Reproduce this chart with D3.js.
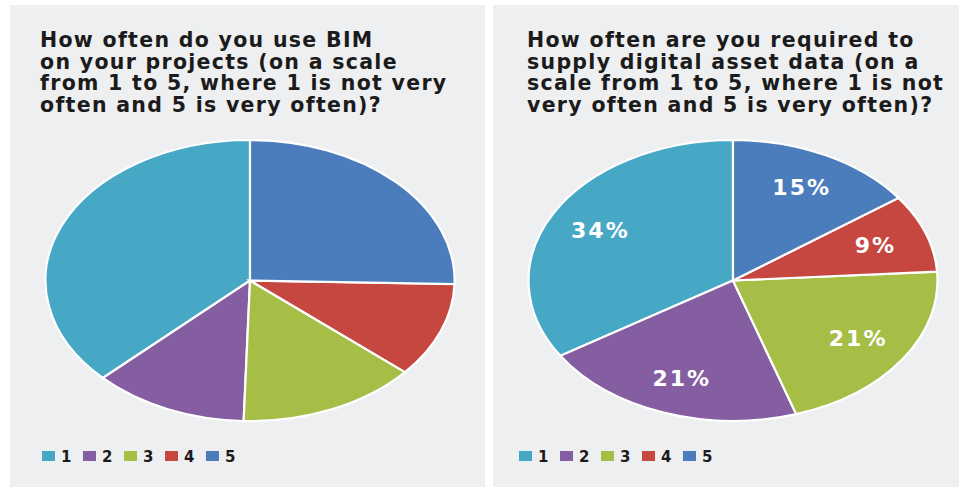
<!DOCTYPE html>
<html>
<head>
<meta charset="utf-8">
<script src="https://cdn.jsdelivr.net/npm/d3@7"></script>
<style>
  html, body { margin: 0; padding: 0; background: #ffffff; }
  svg { display: block; }
</style>
</head>
<body>
<svg id="chart" width="959" height="487"></svg>
<script>
// ---- data ----
const categories = ["1", "2", "3", "4", "5"];
const bimValues = [37.2, 12.3, 14.2, 10.9, 25.4];   // left chart (no labels shown)
const assetValues = [34, 21, 21, 9, 15];            // right chart (%)
const leftTitle = ["How often do you use BIM", "on your projects (on a scale", "from 1 to 5, where 1 is not very", "often and 5 is very often)?"];
const rightTitle = ["How often are you required to", "supply digital asset data (on a", "scale from 1 to 5, where 1 is not", "very often and 5 is very often)?"];
const colors = ["#47a8c6", "#845ea0", "#a6bd46", "#c5473f", "#4b7cbc"];

const svg = d3.select("#chart");
const color = d3.scaleOrdinal().domain(categories).range(colors);

const panels = [
  { x0: 10, x1: 485, values: bimValues, title: leftTitle, labels: false, cx: 250, titleX: 40, legendX: 42 },
  { x0: 493, x1: 959, values: assetValues, title: rightTitle, labels: true, cx: 733, titleX: 527, legendX: 519 }
];

const rx = 204.5, ry = 140.5, cy = 280.5;

panels.forEach(p => {
  const g = svg.append("g");
  g.append("rect").attr("x", p.x0).attr("y", 5).attr("width", p.x1 - p.x0).attr("height", 482).attr("fill", "#eeeff1");

  // title
  const t = g.append("text")
    .attr("x", p.titleX).attr("y", 47)
    .attr("font-family", "DejaVu Sans, sans-serif")
    .attr("font-weight", "bold")
    .attr("font-size", 20.5)
    .attr("letter-spacing", 1.3)
    .attr("fill", "#1b1b1b");
  p.title.forEach((line, i) => {
    t.append("tspan").attr("x", p.titleX).attr("dy", i === 0 ? 0 : 21.7).text(line);
  });

  // pie (ellipse = scaled unit circle)
  const data = categories.map((c, i) => ({ cat: c, idx: i, value: p.values[i] }));
  const pie = d3.pie().value(d => d.value).sort((a, b) => b.idx - a.idx);
  const arcs = pie(data);
  const arc = d3.arc().innerRadius(0).outerRadius(1);
  const pg = g.append("g").attr("transform", `translate(${p.cx},${cy}) scale(${rx},${ry})`);
  pg.selectAll("path").data(arcs).join("path")
    .attr("d", arc)
    .attr("fill", d => color(d.data.cat))
    .attr("stroke", "#ffffff")
    .attr("stroke-width", 2.2)
    .attr("vector-effect", "non-scaling-stroke");

  if (p.labels) {
    const labelArc = d3.arc().innerRadius(0.74).outerRadius(0.74);
    g.selectAll("text.lbl").data(arcs).join("text")
      .attr("class", "lbl")
      .attr("x", d => p.cx + labelArc.centroid(d)[0] * rx)
      .attr("y", d => cy + labelArc.centroid(d)[1] * ry)
      .attr("text-anchor", "middle")
      .attr("dominant-baseline", "central")
      .attr("font-family", "DejaVu Sans, sans-serif")
      .attr("font-weight", "bold")
      .attr("font-size", 22)
      .attr("letter-spacing", 2)
      .attr("fill", "#ffffff")
      .text(d => d.data.value + "%");
  }

  // legend
  const lx = d3.scaleBand().domain(categories).range([p.legendX, p.legendX + 41 * 5]);
  const lg = g.append("g");
  categories.forEach(c => {
    lg.append("rect").attr("x", lx(c)).attr("y", 451).attr("width", 13).attr("height", 10).attr("fill", color(c));
    lg.append("text").attr("x", lx(c) + 19).attr("y", 461.5)
      .attr("font-family", "DejaVu Sans, sans-serif").attr("font-weight", "bold")
      .attr("font-size", 15).attr("fill", "#1b1b1b").text(c);
  });
});
</script>
</body>
</html>
